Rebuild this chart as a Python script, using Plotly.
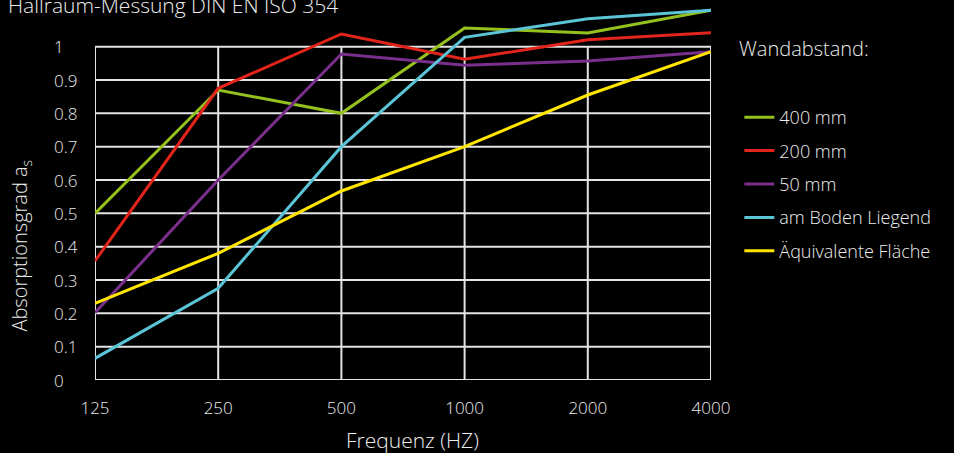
import plotly.graph_objects as go

# ---- data ----
FREQ = ["125", "250", "500", "1000", "2000", "4000"]
S400 = [0.50, 0.87, 0.80, 1.056, 1.041, 1.109]
S200 = [0.357, 0.875, 1.038, 0.962, 1.021, 1.042]
S50 = [0.202, 0.60, 0.978, 0.944, 0.957, 0.985]
BODEN = [0.065, 0.275, 0.70, 1.028, 1.084, 1.109]
AEQUI = [0.23, 0.38, 0.567, 0.70, 0.855, 0.985]
NAMES = ["400 mm", "200 mm", "50 mm", "am Boden Liegend", "Äquivalente Fläche"]
COLORS = ["#95c11f", "#e3241b", "#7b2f8c", "#5bc4d6", "#ffe500"]
Y_TICKS = [0, 0.1, 0.2, 0.3, 0.4, 0.5, 0.6, 0.7, 0.8, 0.9, 1]
Y_TICKTEXT = ["0", "0.1", "0.2", "0.3", "0.4", "0.5", "0.6", "0.7", "0.8", "0.9", "1"]

FONT = "Open Sans"
TXT = "#ececec"
GRID = "#e4e4e4"
W = 300

fig = go.Figure()
for i, (name, vals) in enumerate(zip(NAMES, [S400, S200, S50, BODEN, AEQUI])):
    fig.add_trace(go.Scatter(
        x=FREQ, y=vals, mode="lines", name=name,
        line=dict(color=COLORS[i], width=3),
        legendgroup=f"g{i}",
    ))

n = len(FREQ) - 1
shapes = []
for v in Y_TICKS:
    shapes.append(dict(type="line", xref="x", yref="y", x0=0, x1=n, y0=v, y1=v,
                       line=dict(color=GRID, width=2), layer="below"))
for k in range(len(FREQ)):
    shapes.append(dict(type="line", xref="x", yref="y", x0=k, x1=k, y0=0, y1=Y_TICKS[-1],
                       line=dict(color=GRID, width=2), layer="below"))

annotations = []
for v, t in zip(Y_TICKS, Y_TICKTEXT):
    annotations.append(dict(text=t, xref="paper", yref="y", x=-0.069, y=v,
                            xanchor="left", yanchor="middle", showarrow=False,
                            font=dict(family=FONT, size=17, color=TXT, weight=W)))
annotations.append(dict(text="Absorptionsgrad a<sub>s</sub>", xref="paper", yref="paper",
                        x=-0.121, y=0.355, xanchor="center", yanchor="middle", textangle=-90,
                        showarrow=False, font=dict(family=FONT, size=20, color=TXT, weight=W)))
annotations.append(dict(text="Hallraum-Messung DIN EN ISO 354", xref="paper", yref="paper",
                        x=-0.144, y=0.946, xanchor="left", yanchor="bottom", showarrow=False,
                        font=dict(family=FONT, size=21, color=TXT, weight=W)))
annotations.append(dict(text="Wandabstand:", xref="paper", yref="paper",
                        x=1.043, y=(380 - 49) / 380, xanchor="left", yanchor="middle", showarrow=False,
                        font=dict(family=FONT, size=20, color=TXT, weight=W)))
annotations.append(dict(text="Frequenz (HZ)", xref="paper", yref="paper",
                        x=0.516, y=-60 / 380, xanchor="center", yanchor="middle", showarrow=False,
                        font=dict(family=FONT, size=21, color=TXT, weight=W)))

fig.update_layout(
    width=954, height=453,
    margin=dict(l=95, r=243, t=0, b=73),
    paper_bgcolor="#000000", plot_bgcolor="#000000",
    font=dict(family=FONT, color=TXT, weight=W),
    shapes=shapes, annotations=annotations,
    showlegend=True,
    legend=dict(x=1.046, y=(380 - 99) / 380, xanchor="left", yanchor="top",
                font=dict(family=FONT, size=18, color=TXT, weight=W), tracegroupgap=7,
                bgcolor="rgba(0,0,0,0)"),
    xaxis=dict(type="category", range=[0, n], showgrid=False, zeroline=False,
               showline=False, ticks="", tickfont=dict(family=FONT, size=17, color=TXT, weight=W),
               ticklabelstandoff=16),
    yaxis=dict(range=[0, 1.14], showgrid=False, zeroline=False, showline=False,
               showticklabels=False, ticks=""),
)

fig.write_html("out.html", post_script="document.body.style.margin='0';",
               config={"displayModeBar": False})
